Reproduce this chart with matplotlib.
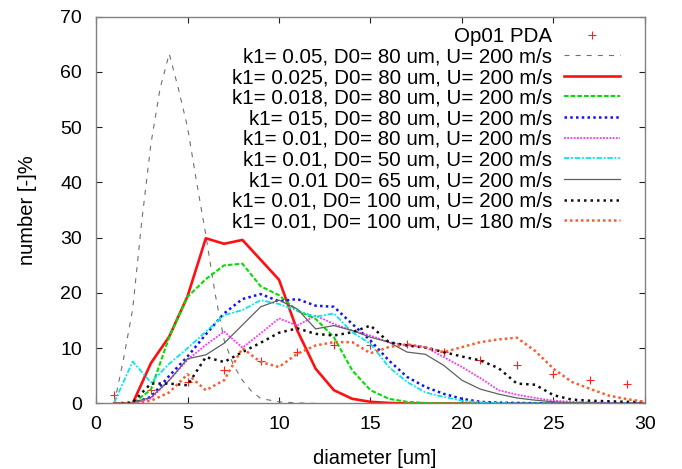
import numpy as np
import matplotlib
matplotlib.use("Agg")
import matplotlib.pyplot as plt

plt.rcParams["font.family"] = ["Liberation Sans", "DejaVu Sans"]

# measured PDA data
pda_x = [1, 3, 5, 7, 9, 11, 13, 15, 17, 19, 21, 23, 25, 27, 29]
pda_y = [1.6, 2.4, 3.8, 6.1, 7.6, 9.4, 10.5, 10.6, 10.7, 9.3, 7.9, 6.9, 5.4, 4.2, 3.6]

# k1=0.05 curve (read at half-micron steps)
x_k05 = [1, 1.5, 2, 2.5, 3, 3.5, 4, 4.5, 5, 5.5, 6, 6.5, 7, 7.5, 8, 8.5, 9, 10, 11, 12]
y_k05 = [0, 8, 17, 33, 47, 57, 63.3, 57, 50, 40, 30.5, 20, 11.5, 7, 4.2, 2.2, 0.9, 0.3, 0.1, 0]

# other model curves on integer diameters 1..30
d = list(range(1, 31))
y_k025 = [0, 0, 7.3, 12.1, 19.4, 29.9, 28.9, 29.6, 26.0, 22.4, 13.2, 6.3, 2.4, 0.85, 0.3,
          0.1, 0, 0, 0, 0, 0, 0, 0, 0, 0, 0, 0, 0, 0, 0]
y_k018 = [0, 0, 2.5, 12.0, 19.3, 22.5, 25.0, 25.3, 21.2, 19.6, 16.8, 15.3, 12.0, 6.0, 2.4,
          0.85, 0.3, 0.1, 0, 0, 0, 0, 0, 0, 0, 0, 0, 0, 0, 0]
y_k015 = [0, 0, 1.2, 5.0, 8.5, 12.5, 16.3, 18.9, 19.8, 18.5, 18.9, 17.7, 17.5, 14.4, 11.4,
          7.8, 4.8, 3.0, 1.75, 0.85, 0.3, 0.15, 0.1, 0.05, 0, 0, 0, 0, 0, 0]
y_k01_80 = [0, 0, 0.9, 4.2, 7.9, 10.6, 13.0, 10.1, 12.7, 15.4, 14.1, 15.9, 14.4, 13.2, 12.3,
            11.1, 10.5, 10.2, 8.4, 6.6, 4.6, 2.4, 1.6, 1.0, 0.5, 0.3, 0.2, 0.1, 0.05, 0]
y_k01_50 = [0.2, 7.6, 3.8, 7.2, 10.0, 13.0, 16.0, 16.9, 18.7, 18.0, 16.8, 15.7, 16.3, 12.9, 10.8,
            6.6, 3.9, 2.0, 1.2, 0.5, 0.2, 0.1, 0, 0, 0, 0, 0, 0, 0, 0]
y_k01_65 = [0, 0.2, 1.1, 4.2, 8.1, 8.8, 10.9, 14.2, 17.5, 18.7, 17.1, 13.5, 14.1, 13.2, 12.0,
            11.1, 9.3, 8.9, 6.9, 4.2, 2.6, 1.7, 1.0, 0.6, 0.3, 0.15, 0.1, 0, 0, 0]
y_k01_100 = [0, 0.2, 3.6, 3.6, 3.3, 8.4, 7.5, 9.3, 11.0, 12.8, 13.6, 12.6, 12.3, 12.9, 14.1,
             11.1, 10.5, 10.1, 9.3, 8.5, 7.8, 6.4, 3.6, 3.4, 1.5, 0.7, 0.5, 0.4, 0.3, 0.3]
y_k01_100_180 = [0, 0, 0.5, 2.0, 5.3, 2.4, 4.2, 10.0, 7.5, 6.6, 9.0, 10.5, 11.1, 11.1, 9.1,
                 10.2, 10.7, 10.2, 9.3, 10.2, 11.1, 11.6, 11.9, 9.5, 6.3, 3.9, 2.65, 1.45, 0.8, 0.3]

labels = [
    "Op01 PDA",
    "k1= 0.05, D0= 80 um, U= 200 m/s",
    "k1= 0.025, D0= 80 um, U= 200 m/s",
    "k1= 0.018, D0= 80 um, U= 200 m/s",
    "k1= 015, D0= 80 um, U= 200 m/s",
    "k1= 0.01, D0= 80 um, U= 200 m/s",
    "k1= 0.01, D0= 50 um, U= 200 m/s",
    "k1= 0.01 D0= 65 um, U= 200 m/s",
    "k1= 0.01, D0= 100 um, U= 200 m/s",
    "k1= 0.01, D0= 100 um, U= 180 m/s",
]

fig = plt.figure(figsize=(6.82, 4.69), dpi=100)
ax = fig.add_axes([0.1408, 0.1397, 0.8049, 0.8247])

h = []
h += ax.plot(pda_x, pda_y, ls="none", marker="+", ms=6, mew=0.8, color="#ff2020")
h += ax.plot(x_k05, y_k05, color="#707070", lw=0.8, ls=(0, (4.5, 5.5)))
h += ax.plot(d, y_k025, color="#ff1010", lw=1.9, ls="-")
h += ax.plot(d, y_k018, color="#00e000", lw=1.5, ls=(0, (2.2, 1.0)))
h += ax.plot(d, y_k015, color="#1010ff", lw=1.8, ls=(0, (1, 1.3)))
h += ax.plot(d, y_k01_80, color="#ff30ff", lw=1.3, ls=(0, (1, 0.8)))
h += ax.plot(d, y_k01_50, color="#00e8f0", lw=1.3, ls=(0, (3, 1, 1, 1)))
h += ax.plot(d, y_k01_65, color="#606060", lw=0.9, ls="-")
h += ax.plot(d, y_k01_100, color="#101010", lw=1.8, ls=(0, (1, 1.6)))
h += ax.plot(d, y_k01_100_180, color="#ff5a28", lw=1.8, ls=(0, (1, 1.2)))

ax.set_xlim(0, 30)
ax.set_ylim(0, 70)
ax.set_xticks(np.arange(0, 31, 5))
ax.set_yticks(np.arange(0, 71, 10))
ax.tick_params(direction="in", top=True, right=True, length=4, width=0.8,
               labelsize=14, color="#202020")
ax.tick_params(axis="x", pad=9)
ax.tick_params(axis="y", pad=10)
for s in ax.spines.values():
    s.set_color("#808080")
    s.set_linewidth(1.0)

ax.set_xlabel("diameter [um]", fontsize=14.5)
ax.set_ylabel("number [-]%", fontsize=14.5)
ax.xaxis.set_label_coords(0.508, -0.118)
ax.yaxis.set_label_coords(-0.108, 0.5)

ax.legend(h, labels, loc="upper right", bbox_to_anchor=(0.9545, 0.974),
          markerfirst=False, frameon=False, fontsize=14.8, handlelength=2.7,
          handletextpad=0.6, labelspacing=0.08, borderpad=0, borderaxespad=0)

fig.savefig("out.png", dpi=100, facecolor="white")
